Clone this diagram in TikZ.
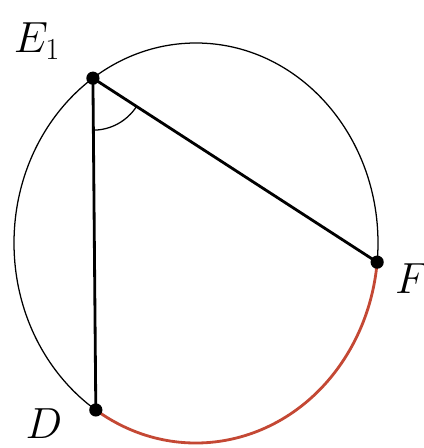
\documentclass[tikz,border=0pt]{standalone}
\usepackage{anyfontsize}
\usepackage{xcolor}
\usetikzlibrary{positioning,angles,calc}
\definecolor{arcred}{RGB}{196,72,52}

\begin{document}
\begin{tikzpicture}[
  rim/.style={draw=black, line width=0.9pt},
  chord/.style={draw=black, line width=2pt},
  hot/.style={draw=arcred, line width=2pt},
  pt/.style={circle, fill=black, inner sep=0pt, minimum size=0.33cm},
  lbl/.style={font=\fontsize{31}{36}\selectfont, inner sep=0pt}]
\useasboundingbox (0,0) rectangle (10.6,11.2);
\coordinate (O) at (4.9,5.125);
\coordinate (E1) at ($(O)+(124.5:4.55cm and 5cm)$);
\coordinate (F) at ($(O)+(-5.5:4.55cm and 5cm)$);
\coordinate (D) at ($(O)+(236.6:4.55cm and 5cm)$);
% circle and the marked arc
\draw[rim] (O) ellipse [x radius=4.55cm, y radius=5cm];
\draw[hot] (D) arc [start angle=236.6, end angle=354.5,
  x radius=4.55cm, y radius=5cm];
% chords and angle
\draw[chord] (E1) -- (D);
\draw[chord] (E1) -- (F);
\pic[draw=black, line width=0.9pt, angle radius=1.3cm] {angle=D--E1--F};
\node[pt] (e1) at (E1) {};
\node[pt] (f) at (F) {};
\node[pt] (d) at (D) {};
\node[lbl] at ($(e1)+(-1.4,0.92)$) {$E_1$};
\node[lbl] at ($(f)+(0.87,-0.4)$) {$F$};
\node[lbl] at ($(d)+(-1.3,-0.34)$) {$D$};
\end{tikzpicture}
\end{document}
